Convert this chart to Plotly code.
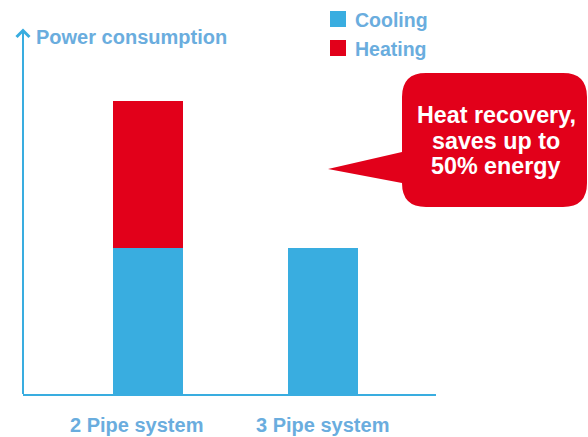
import plotly.graph_objects as go

# Chart data
systems = ["2 Pipe system", "3 Pipe system"]
series_names = ["Cooling", "Heating"]
cooling = [50, 50]
heating = [50, 0]
axis_title = "Power consumption"
callout_lines = ["Heat recovery,", "saves up to", "50% energy"]

BLUE = "#39ADE0"
RED = "#E2001A"
TEXT_BLUE = "#6AADDE"
FONT = "Liberation Sans, Arial, sans-serif"

W, H = 588, 437
L, R, T, B = 23, 152, 29, 43
PW, PH = W - L - R, H - T - B


def px(x):
    return (x - L) / PW


def py(y):
    return (H - B - y) / PH


def pts_path(points, close=False):
    s = " ".join(("M" if i == 0 else "L") + f" {px(a):.5f},{py(b):.5f}"
                 for i, (a, b) in enumerate(points))
    return s + (" Z" if close else "")


fig = go.Figure()
fig.add_trace(go.Bar(x=[0, 1], y=cooling, name=series_names[0], width=0.401,
                     marker=dict(color=BLUE, line=dict(width=0))))
fig.add_trace(go.Bar(x=[0, 1], y=heating, name=series_names[1], width=0.401,
                     marker=dict(color=RED, line=dict(width=0))))

annotations = []
shapes = []

# vertical axis with chevron arrow head
shapes.append(dict(type="line", xref="paper", yref="paper", x0=0, x1=0,
                   y0=0, y1=py(30), line=dict(color=BLUE, width=2)))
shapes.append(dict(type="path", xref="paper", yref="paper",
                   path=pts_path([(16.5, 37), (23, 30.5), (29.5, 37)]),
                   line=dict(color=BLUE, width=3)))
annotations.append(dict(x=px(34), y=py(37), xref="paper", yref="paper",
                        text=f"<b>{axis_title}</b>", showarrow=False,
                        xanchor="left", yanchor="middle",
                        font=dict(family=FONT, size=20, color=TEXT_BLUE)))

# category labels
for i, (name, shift) in enumerate(zip(systems, [-11, 0])):
    annotations.append(dict(x=i, y=py(425), xref="x", yref="paper", xshift=shift,
                            text=f"<b>{name}</b>", showarrow=False,
                            xanchor="center", yanchor="middle",
                            font=dict(family=FONT, size=20, color=TEXT_BLUE)))

# legend
for name, color, yc in zip(series_names, [BLUE, RED], [19, 48]):
    shapes.append(dict(type="rect", xref="paper", yref="paper",
                       x0=px(330), x1=px(346), y0=py(yc - 8), y1=py(yc + 8),
                       fillcolor=color, line=dict(width=0)))
    annotations.append(dict(x=px(353), y=py(yc + 1), xref="paper", yref="paper",
                            text=f"<b>{name}</b>", showarrow=False,
                            xanchor="left", yanchor="middle",
                            font=dict(family=FONT, size=19.5, color=TEXT_BLUE)))

# speech bubble
x0, x1, y0, y1, r = 402, 587, 73, 207, 24
tip = (328, 169)
segs = [
    ("M", [(x0 + r, y0)]),
    ("L", [(x1 - r, y0)]),
    ("Q", [(x1, y0), (x1, y0 + r)]),
    ("L", [(x1, y1 - r)]),
    ("Q", [(x1, y1), (x1 - r, y1)]),
    ("L", [(x0 + r, y1)]),
    ("Q", [(x0, y1), (x0, y1 - r)]),
    ("L", [(x0, 183)]),
    ("L", [tip]),
    ("L", [(x0, 152)]),
    ("L", [(x0, y0 + r)]),
    ("Q", [(x0, y0), (x0 + r, y0)]),
]
path = " ".join(cmd + " " + " ".join(f"{px(a):.5f},{py(b):.5f}" for a, b in p)
                for cmd, p in segs) + " Z"
shapes.append(dict(type="path", path=path, xref="paper", yref="paper",
                   fillcolor=RED, line=dict(width=0)))
for line, yc in zip(callout_lines, [115, 141, 166]):
    annotations.append(dict(x=px(496), y=py(yc), xref="paper", yref="paper",
                            text=f"<b>{line}</b>", showarrow=False,
                            xanchor="center", yanchor="middle",
                            font=dict(family=FONT, size=23.3, color="white")))

fig.update_layout(
    width=W, height=H,
    margin=dict(l=L, r=R, t=T, b=B, pad=0),
    paper_bgcolor="white", plot_bgcolor="white",
    barmode="stack", showlegend=False,
    xaxis=dict(range=[-0.716, 1.650], showticklabels=False, ticks="",
               showgrid=False, zeroline=False, showline=True,
               linecolor=BLUE, linewidth=2),
    yaxis=dict(range=[0, 124.6], showticklabels=False, ticks="",
               showgrid=False, zeroline=False, showline=False),
    shapes=shapes, annotations=annotations,
)

fig.write_html("out.html", config={"displayModeBar": False})
